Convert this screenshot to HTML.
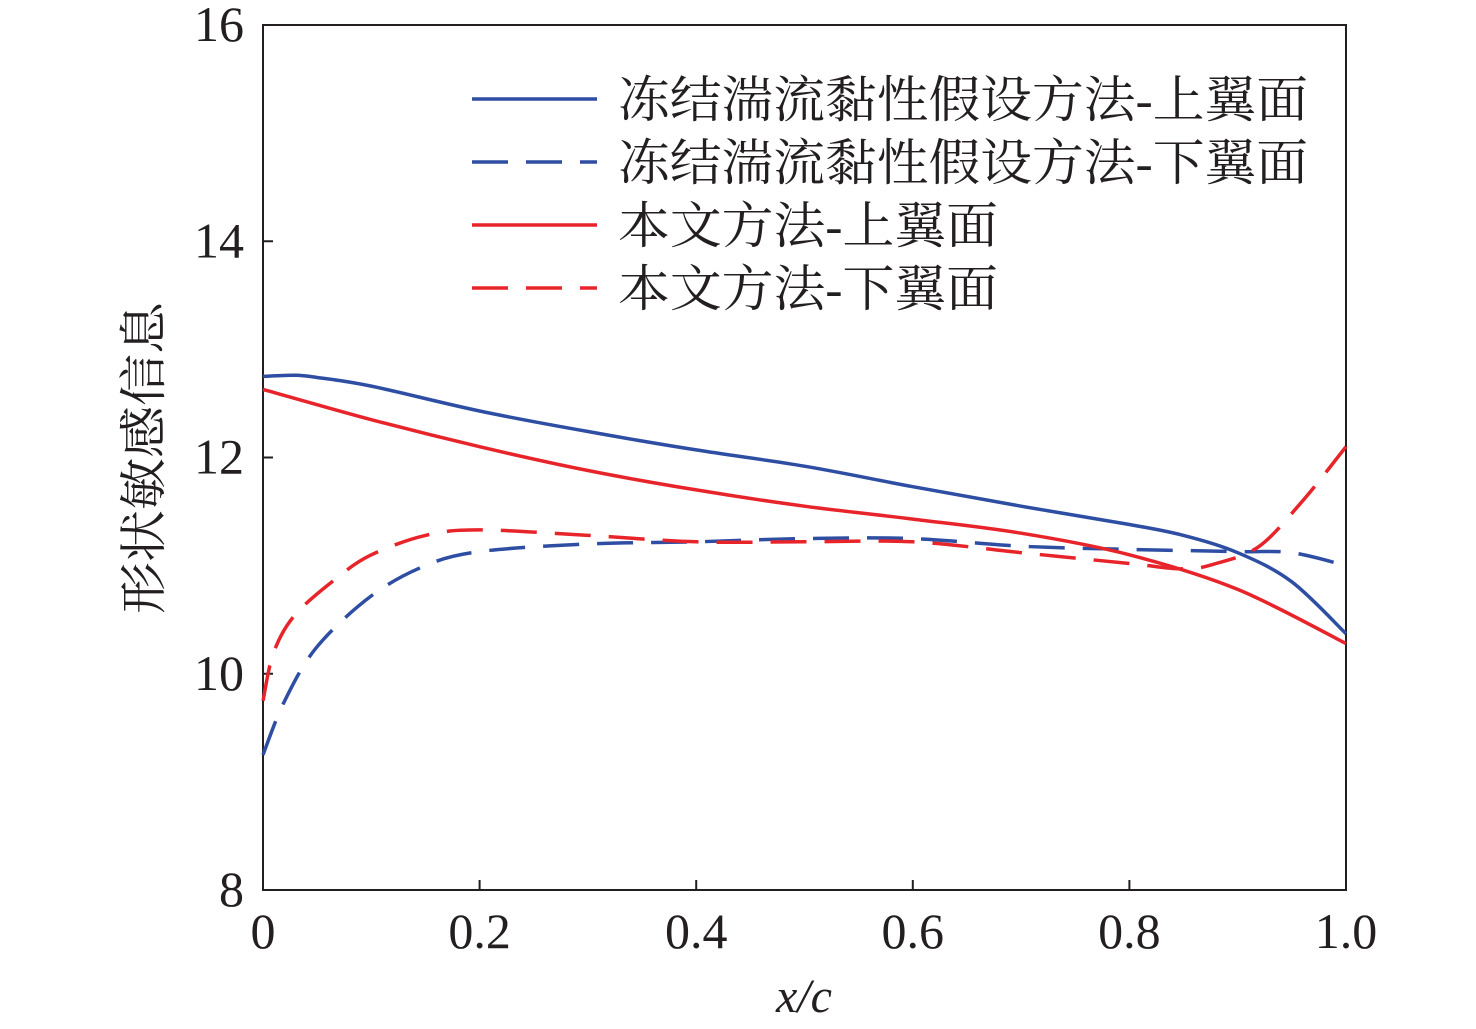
<!DOCTYPE html>
<html><head><meta charset="utf-8"><style>
html,body{margin:0;padding:0;background:#fff;}
svg{display:block;}
text{font-family:"Liberation Serif","Noto Serif CJK SC",serif;fill:#231f20;}
.cjk{font-family:"Liberation Serif","Noto Serif CJK SC","Noto Sans CJK SC",serif;}
</style></head><body>
<svg id="chart" width="1476" height="1029" viewBox="0 0 1476 1029" xmlns="http://www.w3.org/2000/svg">
<g id="plot"></g>
</svg>
<script>
const xTicks=[0,0.2,0.4,0.6,0.8,1.0];
const xTickLabels=["0","0.2","0.4","0.6","0.8","1.0"];
const yTicks=[8,10,12,14,16];
const yTickLabels=["8","10","12","14","16"];
const blueUpperX=[0,0.03,0.05,0.1,0.2,0.3,0.4,0.5,0.6,0.7,0.8,0.85,0.9,0.95,1.0];
const blueUpperY=[12.75,12.76,12.74,12.66,12.43,12.24,12.07,11.92,11.73,11.55,11.38,11.28,11.12,10.85,10.37];
const redUpperX=[0,0.1,0.2,0.3,0.4,0.5,0.6,0.7,0.8,0.9,1.0];
const redUpperY=[12.63,12.35,12.1,11.88,11.7,11.55,11.43,11.3,11.1,10.78,10.28];
const blueLowerX=[0,0.02,0.05,0.1,0.15,0.2,0.3,0.4,0.5,0.6,0.7,0.8,0.9,0.95,1.0];
const blueLowerY=[9.25,9.75,10.25,10.72,11.0,11.13,11.2,11.22,11.25,11.25,11.18,11.15,11.13,11.12,11.0];
const redLowerX=[0,0.01,0.03,0.07,0.1,0.15,0.2,0.3,0.4,0.5,0.6,0.7,0.8,0.85,0.88,0.92,0.96,1.0];
const redLowerY=[9.75,10.2,10.55,10.9,11.1,11.28,11.33,11.28,11.22,11.22,11.22,11.12,11.02,10.97,11.02,11.18,11.6,12.1];

const NS="http://www.w3.org/2000/svg";
const X0=263,X1=1346,Y0=890,Y1=25;
const sx=v=>X0+(v-0)/(1-0)*(X1-X0);
const sy=v=>Y0-(v-8)/(16-8)*(Y0-Y1);
const g=document.getElementById('plot');
function mk(tag,attrs){const e=document.createElementNS(NS,tag);for(const k in attrs)e.setAttribute(k,attrs[k]);g.appendChild(e);return e;}

const frame=mk('rect',{x:X0,y:Y1,width:X1-X0,height:Y0-Y1,fill:'none',stroke:'#231f20','stroke-width':2});



xTicks.forEach((t,i)=>{
  const l=mk('line',{x1:sx(t),x2:sx(t),y1:Y0,y2:Y0-10,stroke:'#231f20','stroke-width':2});
  
  
  const tx=mk('text',{x:sx(t),y:948,'font-size':50,'text-anchor':'middle'});
  tx.textContent=xTickLabels[i];
  
  
});
yTicks.forEach((t,i)=>{
  const l=mk('line',{x1:X0,x2:X0+10,y1:sy(t),y2:sy(t),stroke:'#231f20','stroke-width':2});
  
  
  const tx=mk('text',{x:244,y:sy(t)+16,'font-size':50,'text-anchor':'end'});
  tx.textContent=yTickLabels[i];
  
  
});
const xt=mk('text',{x:804,y:1012,'font-size':48,'text-anchor':'middle','font-style':'italic'});
xt.textContent='x/c';


const yt=mk('text',{x:0,y:0,'font-size':48,'text-anchor':'middle',class:'cjk',textLength:312,lengthAdjust:'spacingAndGlyphs',transform:'translate(160,458) rotate(-90)'});
yt.textContent='形状敏感信息';



function series(xs,ys,color,dash,name){
  const P=xs.map((x,i)=>[sx(x),sy(ys[i])]);
  let d='M'+P[0][0].toFixed(1)+','+P[0][1].toFixed(1);
  for(let i=0;i<P.length-1;i++){
    const p0=P[Math.max(0,i-1)],p1=P[i],p2=P[i+1],p3=P[Math.min(P.length-1,i+2)];
    const c1=[p1[0]+(p2[0]-p0[0])/6,p1[1]+(p2[1]-p0[1])/6];
    const c2=[p2[0]-(p3[0]-p1[0])/6,p2[1]-(p3[1]-p1[1])/6];
    d+=' C'+c1.map(v=>v.toFixed(1)).join(',')+' '+c2.map(v=>v.toFixed(1)).join(',')+' '+p2.map(v=>v.toFixed(1)).join(',');
  }
  const p=mk('path',{d:d,fill:'none',stroke:color,'stroke-width':3.5});
  if(dash)p.setAttribute('stroke-dasharray',dash);
  
  
}
const BLUE='#2e4ea3',RED='#e8242b';
series(blueLowerX,blueLowerY,BLUE,'36,18','blue-lower-dashed-line');
series(redLowerX,redLowerY,RED,'36,18','red-lower-dashed-line');
series(blueUpperX,blueUpperY,BLUE,null,'blue-upper-line');
series(redUpperX,redUpperY,RED,null,'red-upper-line');

const legendLabels=['冻结湍流黏性假设方法-上翼面','冻结湍流黏性假设方法-下翼面','本文方法-上翼面','本文方法-下翼面'];
const legendWidths=[690,690,380,380];
const legendColors=[BLUE,BLUE,RED,RED];
const legendDash=[null,'36,18',null,'36,18'];
legendLabels.forEach((lab,i)=>{
  const y=99+i*63;
  const l=mk('line',{x1:472,x2:597,y1:y,y2:y,stroke:legendColors[i],'stroke-width':3.5});
  if(legendDash[i])l.setAttribute('stroke-dasharray',legendDash[i]);
  
  
  const t=mk('text',{x:618,y:y+18,'font-size':50,class:'cjk',textLength:legendWidths[i],lengthAdjust:'spacingAndGlyphs'});
  t.textContent=lab;
  
  
});
</script>
</body></html>
